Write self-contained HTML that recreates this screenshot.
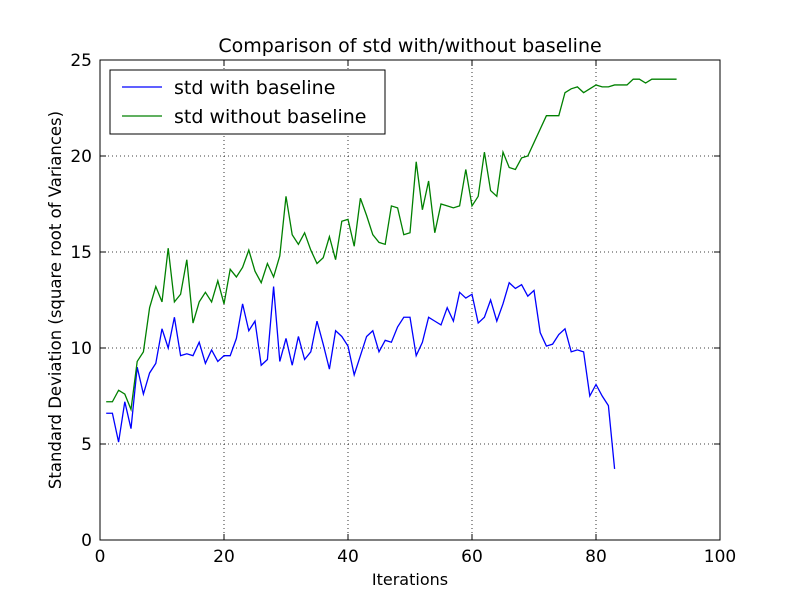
<!DOCTYPE html>
<html><head><meta charset="utf-8"><style>body{margin:0;background:#fff}svg{display:block;font-family:"DejaVu Sans","Liberation Sans",sans-serif}</style></head>
<body>
<svg id="chart" width="800" height="600"></svg>
<script>
const blueVals=[6.6,6.6,5.1,7.2,5.8,9.0,7.6,8.7,9.2,11.0,10.0,11.6,9.6,9.7,9.6,10.3,9.2,9.9,9.3,9.6,9.6,10.5,12.3,10.9,11.4,9.1,9.4,13.2,9.3,10.5,9.1,10.6,9.4,9.8,11.4,10.2,8.9,10.9,10.6,10.1,8.6,9.6,10.6,10.9,9.8,10.4,10.3,11.1,11.6,11.6,9.6,10.3,11.6,11.4,11.2,12.1,11.4,12.9,12.6,12.8,11.3,11.6,12.5,11.4,12.3,13.4,13.1,13.3,12.7,13.0,10.8,10.1,10.2,10.7,11.0,9.8,9.9,9.8,7.5,8.1,7.5,7.0,3.7];
const greenVals=[7.2,7.2,7.8,7.6,6.8,9.3,9.8,12.1,13.2,12.4,15.2,12.4,12.8,14.6,11.3,12.4,12.9,12.4,13.5,12.3,14.1,13.7,14.2,15.1,14.0,13.4,14.4,13.7,14.8,17.9,15.9,15.4,16.0,15.1,14.4,14.7,15.8,14.6,16.6,16.7,15.3,17.8,16.9,15.9,15.5,15.4,17.4,17.3,15.9,16.0,19.7,17.2,18.7,16.0,17.5,17.4,17.3,17.4,19.3,17.4,17.9,20.2,18.2,17.9,20.2,19.4,19.3,19.9,20.0,20.7,21.4,22.1,22.1,22.1,23.3,23.5,23.6,23.3,23.5,23.7,23.6,23.6,23.7,23.7,23.7,24.0,24.0,23.8,24.0,24.0,24.0,24.0,24.0];
const xTicks=[0,20,40,60,80,100];
const yTicks=[0,5,10,15,20,25];
const seriesNames=["std with baseline","std without baseline"];
const NS="http://www.w3.org/2000/svg";
const svg=document.getElementById('chart');
const L=100,R=720,T=60,B=540;
const xs=v=>L+(v/100)*(R-L);
const ys=v=>B-(v/25)*(B-T);
function el(t,a,p){const e=document.createElementNS(NS,t);for(const k in a)e.setAttribute(k,a[k]);(p||svg).appendChild(e);return e;}
xTicks.forEach(t=>{
 const g=el('line',{x1:xs(t),x2:xs(t),y1:T,y2:B,stroke:'#000','stroke-dasharray':'1,3','stroke-width':0.8});
 
 
 const tx=el('text',{x:xs(t),y:B+22,'font-size':17,'text-anchor':'middle'});tx.textContent=t;
 
 
 el('line',{x1:xs(t),x2:xs(t),y1:B,y2:B-6,stroke:'#000'});
 el('line',{x1:xs(t),x2:xs(t),y1:T,y2:T+6,stroke:'#000'});
});
yTicks.forEach(t=>{
 const g=el('line',{x1:L,x2:R,y1:ys(t),y2:ys(t),stroke:'#000','stroke-dasharray':'1,3','stroke-width':0.8});
 
 
 const tx=el('text',{x:L-8,y:ys(t)+6,'font-size':17,'text-anchor':'end'});tx.textContent=t;
 
 
 el('line',{x1:L,x2:L+6,y1:ys(t),y2:ys(t),stroke:'#000'});
 el('line',{x1:R,x2:R-6,y1:ys(t),y2:ys(t),stroke:'#000'});
});
function line(vals,color,name){
 const p=el('polyline',{points:vals.map((v,i)=>xs(i+1)+','+ys(v)).join(' '),fill:'none',stroke:color,'stroke-width':1.3});
 
 
}
line(blueVals,'#0000ff','series-std-with-baseline');
line(greenVals,'#008000','series-std-without-baseline');
const fr=el('rect',{x:L,y:T,width:R-L,height:B-T,fill:'none',stroke:'#000','stroke-width':1});


const tt=el('text',{x:410,y:52,'font-size':19,'text-anchor':'middle'});tt.textContent='Comparison of std with/without baseline';


const xl=el('text',{x:410,y:585,'font-size':16,'text-anchor':'middle'});xl.textContent='Iterations';


const yl=el('text',{x:0,y:0,'font-size':16.5,'text-anchor':'middle',transform:'translate(61,300) rotate(-90)'});yl.textContent='Standard Deviation (square root of Variances)';


const lg=el('g',{});


el('rect',{x:110,y:70,width:275,height:64,fill:'#fff',stroke:'#000'},lg);
const cols=['#0000ff','#008000'];
seriesNames.forEach((n,i)=>{
 const y=87+i*29;
 const s=el('line',{x1:122,x2:162,y1:y,y2:y,stroke:cols[i],'stroke-width':1.3},lg);
 
 
 const t=el('text',{x:174,y:y+7,'font-size':19},lg);t.textContent=n;
 
 
});
</script>
</body></html>
